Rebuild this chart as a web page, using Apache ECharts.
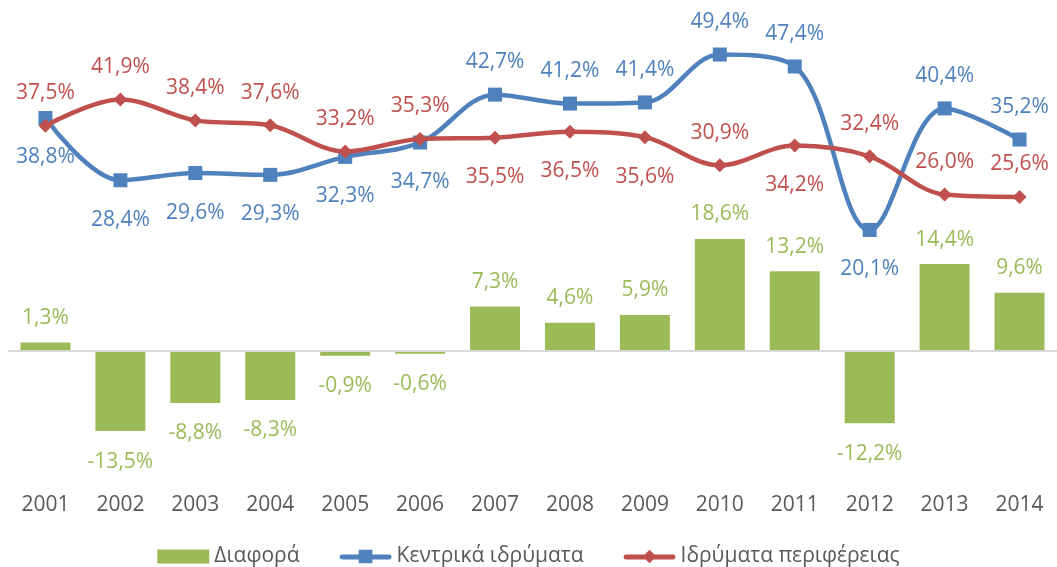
<!DOCTYPE html>
<html>
<head>
<meta charset="utf-8">
<script src="https://cdn.jsdelivr.net/npm/echarts@6/dist/echarts.min.js"></script>
<style>
  html, body { margin: 0; padding: 0; background: #fff; }
  #chart { width: 1057px; height: 567px; }
</style>
</head>
<body>
<div id="chart"></div>
<script>
// Years on the category axis
const years = ['2001','2002','2003','2004','2005','2006','2007','2008','2009','2010','2011','2012','2013','2014'];

// Share (%) for central institutions
const central = [38.8, 28.4, 29.6, 29.3, 32.3, 34.7, 42.7, 41.2, 41.4, 49.4, 47.4, 20.1, 40.4, 35.2];

// Share (%) for regional institutions
const regional = [37.5, 41.9, 38.4, 37.6, 33.2, 35.3, 35.5, 36.5, 35.6, 30.9, 34.2, 32.4, 26.0, 25.6];

// Difference (central minus regional), percentage points
const difference = [1.3, -13.5, -8.8, -8.3, -0.9, -0.6, 7.3, 4.6, 5.9, 18.6, 13.2, -12.2, 14.4, 9.6];

// Where each point label sits relative to its marker
const centralLabelSide = ['bottom','bottom','bottom','bottom','bottom','bottom','top','top','top','top','top','bottom','top','top'];
const regionalLabelSide = ['top','top','top','top','top','top','bottom','bottom','bottom','top','bottom','top','top','top'];

const FONT = 'Open Sans';
const GREEN = '#9BBB59', BLUE = '#4F81BD', RED = '#C0504D', TEXT = '#595959';
const FS = 21;

// Legend glyphs for the line series: a thick stroke with the marker in the middle
const ICON_LINE_SQUARE = 'path://M2,5 L50,5 A2.5,2.5 0 0 1 50,10 L2,10 A2.5,2.5 0 0 1 2,5 Z M19,0 L33,0 L33,14 L19,14 Z';
const ICON_LINE_DIAMOND = 'path://M2,5 L50,5 A2.5,2.5 0 0 1 50,10 L2,10 A2.5,2.5 0 0 1 2,5 Z M26,0 L33,7 L26,14 L19,7 Z';

const pct = v => v.toFixed(1).replace('.', ',') + '%';

// Label gap above / below a marker
const gapFor = side => (side === 'top' ? 15 : 22);

function lineData(values, sides) {
  return values.map((v, i) => ({
    value: v,
    label: { position: sides[i], distance: gapFor(sides[i]) }
  }));
}

function barData(values) {
  return values.map(v => ({
    value: v,
    label: v >= 0 ? { position: 'top', distance: 14 } : { position: 'bottom', distance: 20 }
  }));
}

const chart = echarts.init(document.getElementById('chart'), null, { renderer: 'canvas' });

chart.setOption({
  animation: false,
  textStyle: { fontFamily: FONT },
  grid: { left: 8, right: 0, top: 21, bottom: 97, containLabel: false },
  legend: {
    top: 541,
    left: 'center',
    itemWidth: 52,
    itemHeight: 14,
    itemGap: 40,
    textStyle: { fontFamily: FONT, fontSize: FS, color: TEXT },
    data: [
      { name: 'Διαφορά', icon: 'rect' },
      { name: 'Κεντρικά ιδρύματα', icon: ICON_LINE_SQUARE },
      { name: 'Ιδρύματα περιφέρειας', icon: ICON_LINE_DIAMOND }
    ]
  },
  xAxis: {
    type: 'category',
    data: years,
    axisLine: { show: false, onZero: false },
    axisTick: { show: false },
    axisLabel: { color: TEXT, fontFamily: FONT, fontSize: FS, margin: 25 }
  },
  yAxis: {
    type: 'value',
    min: -20,
    max: 55,
    show: false,
    splitLine: { show: false }
  },
  series: [
    {
      name: 'Διαφορά',
      type: 'bar',
      barWidth: 50,
      itemStyle: { color: GREEN },
      data: barData(difference),
      label: {
        show: true,
        color: GREEN,
        fontFamily: FONT,
        fontSize: FS,
        formatter: p => pct(p.value)
      },
      markLine: {
        silent: true,
        symbol: 'none',
        label: { show: false },
        lineStyle: { color: '#D9D9D9', width: 2, type: 'solid' },
        data: [{ yAxis: 0 }]
      },
      z: 1
    },
    {
      name: 'Κεντρικά ιδρύματα',
      type: 'line',
      smooth: 0.35,
      symbol: 'rect',
      symbolSize: 14,
      lineStyle: { color: BLUE, width: 4.5 },
      itemStyle: { color: BLUE },
      data: lineData(central, centralLabelSide),
      label: {
        show: true,
        color: BLUE,
        fontFamily: FONT,
        fontSize: FS,
        formatter: p => pct(p.value)
      },
      z: 3
    },
    {
      name: 'Ιδρύματα περιφέρειας',
      type: 'line',
      smooth: 0.35,
      symbol: 'diamond',
      symbolSize: 14,
      lineStyle: { color: RED, width: 4.5 },
      itemStyle: { color: RED },
      data: lineData(regional, regionalLabelSide),
      label: {
        show: true,
        color: RED,
        fontFamily: FONT,
        fontSize: FS,
        formatter: p => pct(p.value)
      },
      z: 4
    }
  ]
});
</script>
</body>
</html>
